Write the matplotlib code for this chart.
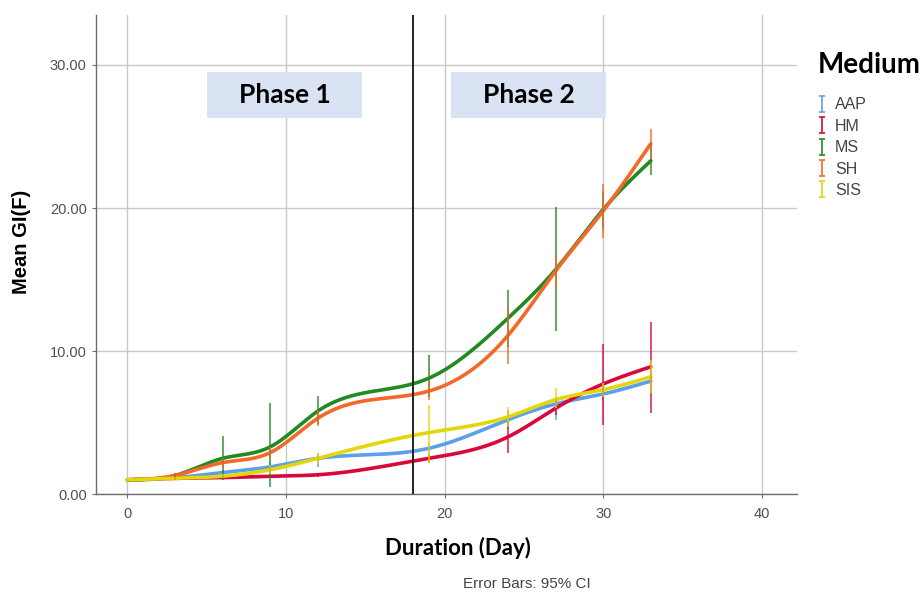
import matplotlib
matplotlib.use("Agg")
import matplotlib.pyplot as plt
import numpy as np
from matplotlib.patches import Rectangle

# ---------------------------------------------------------------------------
# data (mean GI(F) and 95% CI per medium)
# ---------------------------------------------------------------------------
days = [0, 3, 6, 9, 12, 19, 24, 27, 30, 33]

aap_mean = [1.0, 1.15, 1.5, 1.9, 2.5, 3.2, 5.2, 6.3, 7.0, 7.9]
aap_lo   = [1.0, 1.05, 1.3, 1.6, 1.9, 2.8, 4.6, 5.2, 6.5, 7.4]
aap_hi   = [1.0, 1.25, 1.7, 2.2, 2.9, 3.6, 5.8, 6.8, 7.5, 8.4]

hm_mean = [1.0, 1.1, 1.15, 1.25, 1.35, 2.5, 4.0, 6.0, 7.7, 8.9]
hm_lo   = [1.0, 1.0, 1.05, 1.15, 1.2, 2.2, 2.9, 5.5, 4.8, 5.7]
hm_hi   = [1.0, 1.2, 1.25, 1.35, 1.5, 2.8, 5.1, 6.6, 10.5, 12.0]

ms_mean = [1.0, 1.3, 2.5, 3.3, 5.8, 8.1, 12.3, 15.7, 19.9, 23.3]
ms_lo   = [1.0, 1.1, 1.0, 0.5, 4.9, 6.8, 10.3, 11.4, 18.5, 22.3]
ms_hi   = [1.0, 1.5, 4.05, 6.4, 6.85, 9.7, 14.3, 20.1, 21.2, 24.5]

sh_mean = [1.0, 1.3, 2.2, 2.9, 5.3, 7.2, 11.1, 15.6, 19.8, 24.5]
sh_lo   = [1.0, 1.1, 1.9, 2.5, 4.75, 6.6, 9.1, 14.4, 17.9, 23.5]
sh_hi   = [1.0, 1.5, 2.5, 3.3, 5.9, 8.0, 13.1, 16.7, 21.7, 25.5]

sis_mean = [1.0, 1.1, 1.25, 1.7, 2.5, 4.3, 5.4, 6.6, 7.3, 8.2]
sis_lo   = [1.0, 1.0, 1.1, 1.4, 2.1, 2.2, 4.7, 6.0, 6.8, 7.1]
sis_hi   = [1.0, 1.2, 1.4, 2.0, 2.9, 6.2, 6.1, 7.4, 7.8, 9.4]

media  = ["AAP", "HM", "MS", "SH", "SIS"]
colors = ["#5aa0ea", "#d8073c", "#238a23", "#f2692a", "#e3d60a"]

series = [
    (aap_mean, aap_lo, aap_hi),
    (hm_mean, hm_lo, hm_hi),
    (ms_mean, ms_lo, ms_hi),
    (sh_mean, sh_lo, sh_hi),
    (sis_mean, sis_lo, sis_hi),
]


def natural_spline(x, y, n=400):
    """Natural cubic spline through the points (the SPSS 'spline' look)."""
    x = np.asarray(x, float)
    y = np.asarray(y, float)
    k = len(x)
    h = np.diff(x)
    A = np.zeros((k, k))
    r = np.zeros(k)
    A[0, 0] = A[-1, -1] = 1.0
    for i in range(1, k - 1):
        A[i, i - 1] = h[i - 1]
        A[i, i] = 2 * (h[i - 1] + h[i])
        A[i, i + 1] = h[i]
        r[i] = 6 * ((y[i + 1] - y[i]) / h[i] - (y[i] - y[i - 1]) / h[i - 1])
    m = np.linalg.solve(A, r)
    xs = np.linspace(x[0], x[-1], n)
    idx = np.clip(np.searchsorted(x, xs) - 1, 0, k - 2)
    x0, x1 = x[idx], x[idx + 1]
    hh = x1 - x0
    a = (x1 - xs) / hh
    b = (xs - x0) / hh
    ys = (a * y[idx] + b * y[idx + 1]
          + ((a ** 3 - a) * m[idx] + (b ** 3 - b) * m[idx + 1]) * hh ** 2 / 6)
    return xs, ys


fig = plt.figure(figsize=(9.21, 5.96), dpi=100)
ax = fig.add_axes([0.104, 0.171, 0.761, 0.804])

# phase boxes
ax.add_patch(Rectangle((5.0, 26.3), 9.8, 3.2, facecolor="#dae3f3",
                       edgecolor="none", zorder=1))
ax.add_patch(Rectangle((20.4, 26.3), 9.8, 3.2, facecolor="#dae3f3",
                       edgecolor="none", zorder=1))
ax.text(9.9, 27.9, "Phase 1", ha="center", va="center", fontsize=19,
        fontweight="bold", family="Lato", zorder=2)
ax.text(25.3, 27.9, "Phase 2", ha="center", va="center", fontsize=19,
        fontweight="bold", family="Lato", zorder=2)

for (mean, lo, hi), c in zip(series, colors):
    xs, ys = natural_spline(days, mean)
    ax.plot(xs, ys, color=c, lw=2.6, solid_capstyle="round", zorder=3)

for (mean, lo, hi), c in zip(series, colors):
    ax.vlines(days, lo, hi, color=c, lw=1.2, alpha=0.85, zorder=4)

ax.axvline(18, color="#222222", lw=1.4, zorder=5)

ax.set_xlim(-2.0, 42.2)
ax.set_ylim(0, 33.5)
ax.set_xticks([0, 10, 20, 30, 40])
ax.set_yticks([0, 10, 20, 30])
ax.set_yticklabels(["0.00", "10.00", "20.00", "30.00"])
ax.grid(True, color="#c8c8c8", lw=1.0, zorder=0)
ax.set_axisbelow(True)
for s in ("top", "right"):
    ax.spines[s].set_visible(False)
for s in ("left", "bottom"):
    ax.spines[s].set_color("#6e6e6e")
    ax.spines[s].set_linewidth(1.0)
ax.tick_params(axis="both", colors="#6e6e6e", labelcolor="#505050",
               labelsize=10.5, length=3, width=0.8)
ax.tick_params(axis="x", pad=6)
for lab in ax.get_xticklabels() + ax.get_yticklabels():
    lab.set_family("Liberation Sans")

fig.text(0.023, 0.594, "Mean GI(F)", ha="center", va="center",
         rotation=90, fontsize=14.5, fontweight="bold",
         family="Liberation Sans")
fig.text(0.497, 0.081, "Duration (Day)", ha="center", va="center",
         fontsize=16, fontweight="bold", family="Lato")
fig.text(0.572, 0.020, "Error Bars: 95% CI", ha="center", va="center",
         fontsize=11, color="#444444", family="Liberation Sans")

# legend with I-shaped error bar glyphs
handles = []
for name, c in zip(media, colors):
    h = ax.errorbar([np.nan], [np.nan], yerr=[1], color=c, lw=1.2,
                    capsize=2.5, capthick=1.2, fmt="none", label=name)
    handles.append(h)
leg = fig.legend(handles=handles, labels=media, loc="upper left",
                 bbox_to_anchor=(0.872, 0.937), frameon=False,
                 title="Medium", handlelength=0.6, handletextpad=0.5,
                 labelspacing=0.40, alignment="left",
                 prop={"family": "Liberation Sans", "size": 11.5})
leg.get_title().set_fontsize(20)
leg.get_title().set_fontweight("bold")
leg.get_title().set_family("Lato")
for t in leg.get_texts():
    t.set_color("#444444")
leg._legend_box.sep = 14

fig.savefig("out.png", dpi=100)
